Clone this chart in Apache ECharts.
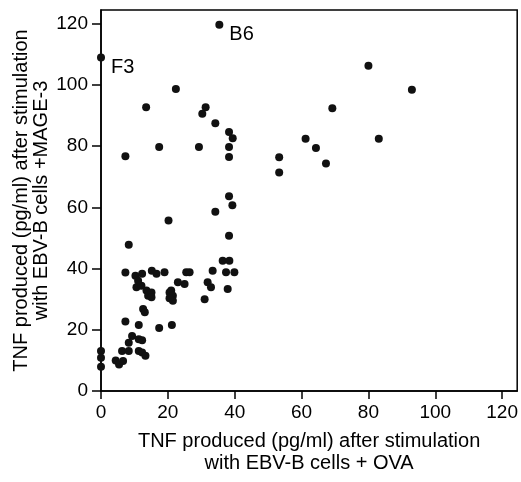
<!DOCTYPE html>
<html><head><meta charset="utf-8">
<script src="https://cdn.jsdelivr.net/npm/echarts@6/dist/echarts.min.js"></script>
<style>html,body{margin:0;padding:0;background:#fff}#c{width:521px;height:482px}</style>
</head><body><div id="c"></div>
<script>
// TNF with OVA (x) vs TNF with MAGE-3 (y)
const xValues = [80,93,69.2,61.2,83.1,64.3,53.3,67.3,53.3,
  22.4,13.5,31.3,30.3,34.2,38.3,39.4,17.4,29.3,38.3,7.3,38.3,38.3,39.3,34.2,20.2,38.3,8.3,
  7.3,10.3,12.3,15.2,16.6,19,10.6,12.1,11.1,13.6,14.1,15.1,15.1,12.6,13.1,7.3,11.3,17.4,21.2,9.3,8.3,11.3,12.3,6.3,8.3,11.3,12.3,13.3,4.4,5.4,6.6,0,0,0,
  20.5,25.5,26.5,21,21.5,21.5,23,25,31,31.9,33.4,32.9,36.4,38.4,37.4,39.9,37.9,20.5];
const yValues = [106.3,98.4,92.4,82.4,82.4,79.4,76.4,74.3,71.4,
  98.7,92.7,92.7,90.6,87.5,84.6,82.6,79.7,79.7,79.7,76.7,76.5,63.6,60.7,58.6,55.7,50.7,47.8,
  38.7,37.7,38.3,39.3,38.3,38.8,33.9,34.4,36,32.8,31.1,32.2,30.6,26.8,25.7,22.7,21.6,20.6,21.6,18,15.8,16.9,16.6,13.1,13.1,13.1,12.6,11.5,10,8.7,9.8,13.1,10.9,7.9,
  32.2,38.8,38.8,32.8,31.1,29.5,35.5,35,30,35.5,39.3,33.9,42.6,42.6,38.8,38.8,33.3,30.3];
const labelNames = ['F3','B6'];
const labelX = [0,35.4];
const labelY = [109,119.7];
const tickValues = [0,20,40,60,80,100,120];

const pts = xValues.map((x,i)=>[x,yValues[i]]);
const lbl = labelX.map((x,i)=>({value:[x,labelY[i]],name:labelNames[i]}));
const font = 'Liberation Sans, Arial, Helvetica, sans-serif';
function axis(extra){
  return Object.assign({
    type:'value', min:0, max:124.5,
    axisLine:{show:true,lineStyle:{color:'#000',width:1.5}},
    splitLine:{show:false},
    nameLocation:'middle',
    nameMoveOverlap:false
  }, extra);
}
const chart = echarts.init(document.getElementById('c'),null,{renderer:'canvas'});
chart.setOption({
  animation:false,
  backgroundColor:'#fff',
  grid:{left:101,right:3,top:10,bottom:91,show:true,borderColor:'#000',borderWidth:1.5,backgroundColor:'transparent'},
  xAxis:axis({
    name:'TNF produced (pg/ml) after stimulation\nwith EBV-B cells + OVA',
    nameGap:39,
    nameTextStyle:{color:'#000',fontSize:20,fontFamily:font,lineHeight:22},
    axisTick:{show:true,inside:false,length:8,customValues:tickValues,lineStyle:{color:'#000',width:1.5}},
    axisLabel:{customValues:tickValues,color:'#000',fontSize:19,fontFamily:font,margin:12}
  }),
  yAxis:axis({
    name:'TNF produced (pg/ml) after stimulation\nwith EBV-B cells +MAGE-3',
    nameGap:50, nameRotate:90,
    nameTextStyle:{color:'#000',fontSize:20,fontFamily:font,lineHeight:20},
    axisTick:{show:true,inside:false,length:9,customValues:tickValues,lineStyle:{color:'#000',width:1.5}},
    axisLabel:{customValues:tickValues,color:'#000',fontSize:19,fontFamily:font,margin:13}
  }),
  series:[
    {type:'scatter',data:pts,symbolSize:8,itemStyle:{color:'#111',opacity:1},silent:true},
    {type:'scatter',data:lbl,symbolSize:8,itemStyle:{color:'#111',opacity:1},silent:true,
     label:{show:true,position:'right',distance:6,offset:[0,10],formatter:'{b}',color:'#000',opacity:1,fontSize:20,fontFamily:font}}
  ]
});
</script></body></html>
